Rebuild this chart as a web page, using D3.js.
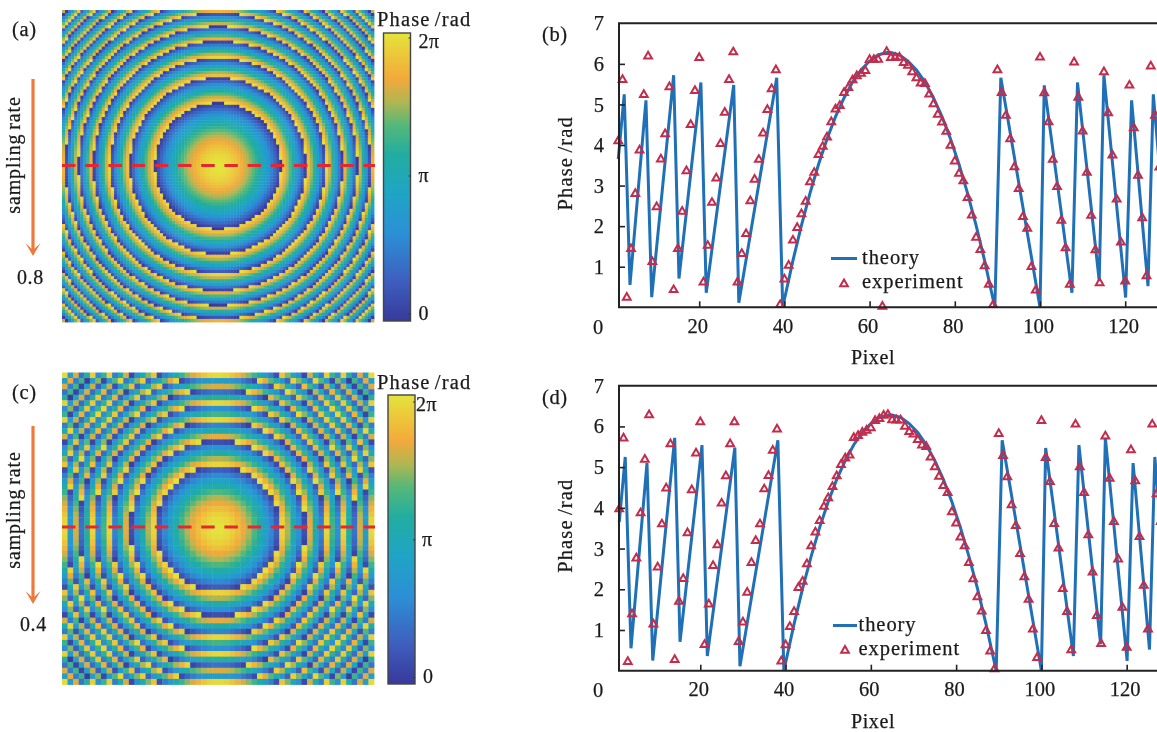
<!DOCTYPE html>
<html><head><meta charset="utf-8">
<script src="https://cdn.jsdelivr.net/npm/d3@7"></script>
<style>
html,body{margin:0;padding:0;background:#fff;overflow:hidden}
svg{display:block;filter:blur(0.45px)}
text{font-family:"Liberation Serif",serif;fill:#1a1a1a;stroke:#1a1a1a;stroke-width:.25px;word-spacing:-2px}
</style></head><body>
<svg id="fig" width="1157" height="732"></svg>
<script>
// --- values ---
const yTicks = [1,2,3,4,5,6,7];
const xTicks = [20,40,60,80,100,120];
const theoryPixel = [1,2.4,3.75,7.5,8.85,14,15.25,20.4,21.65,28.1,29.3,38.2,39.6,42,44,46,48,50,52,54,56,58,60,62,64,65,67,69,71,73,75,77,79,81,83,85,87,89.4,90.8,100,101,107.5,108.8,113.9,115,120.1,121.5,125.35,126.6,128];
const theoryPhase = [3.65,5.25,.55,5.1,.25,5.72,.71,5.54,.36,5.48,.11,5.66,0,1.15,2.02,2.81,3.52,4.15,4.7,5.16,5.55,5.85,6.07,6.22,6.28,6.28,6.22,6.07,5.85,5.55,5.16,4.7,4.15,3.52,2.81,2.02,1.15,0,5.66,0,5.47,.36,5.54,.65,5.72,.24,5.1,.52,5.25,3.5];
const expB = [4.10,5.61,.24,1.44,2.80,3.87,5.24,6.19,1.12,2.47,3.65,4.27,5.43,.43,1.44,2.36,3.36,4.5,5.34,6.15,.62,1.52,2.58,3.18,4.03,4.8,5.61,6.29,.62,1.32,1.81,2.62,3.15,3.64,4.29,4.87,5.38,5.85,.06,.69,1.03,1.65,1.96,2.30,2.61,3.09,3.32,3.76,3.96,4.19,4.57,4.88,4.97,5.29,5.41,5.6,5.70,5.76,5.83,6.10,6.10,6.11,.02,6.30,6.15,6.15,6.16,6.03,5.96,5.80,5.65,5.52,5.51,5.25,5.01,4.75,4.56,4.33,3.99,3.60,3.30,3.11,2.70,2.27,1.72,1.42,1.02,.56,.06,5.85,5.29,4.73,4.15,3.46,2.92,2.23,1.94,1.0,.42,6.16,5.28,4.57,3.64,2.97,2.14,1.46,.56,6.04,5.17,4.34,3.32,2.26,1.41,.60,5.80,4.79,3.75,2.66,1.60,.64,5.47,4.42,3.25,2.20,.77,5.94,4.73,3.45];
const expD = [3.97,5.71,.22,1.39,2.76,3.87,5.19,6.28,1.14,2.54,3.60,4.48,5.57,.27,1.70,2.26,3.38,4.44,5.34,6.11,.64,1.63,2.58,3.09,4.11,4.78,5.57,6.11,.71,1.19,1.92,2.65,3.19,3.60,4.46,4.79,5.41,5.93,.23,.63,1.08,1.45,2.04,2.19,2.62,3.06,3.40,3.68,4.03,4.24,4.52,4.78,5.06,5.22,5.29,5.72,5.77,5.85,5.90,5.96,6.14,6.19,6.27,6.29,6.16,6.15,6.15,6.0,5.87,5.81,5.67,5.54,5.50,5.24,5.0,4.77,4.54,4.37,3.90,3.62,3.28,3.06,2.65,2.25,1.81,1.46,.98,.48,.04,5.82,5.28,4.76,4.07,3.56,2.87,2.30,1.75,1.02,.32,6.14,5.23,4.64,3.61,3.01,2.01,1.45,.51,6.05,5.0,4.37,3.33,2.42,1.35,.66,5.76,4.72,3.66,2.74,1.55,.57,5.42,4.66,3.29,2.09,1.02,6.05,4.34,3.66];
// radius (in pixels of the 128-pixel row) of each wrap ring seen in the phase maps
const ringRadii = [0,25.8,36.2,44.3,51.2,57.2,62.7,67.7,72.4,76.8,81,85,88.8,92.4,96,99.4];
const colorStops = [0,.14,.3,.45,.58,.68,.76,.84,.92,1];
const colorValues = ["#38399b","#3e5fbf","#2c8fd6","#1fa5c4","#22ad9f","#55b87a","#b0b652","#f2a93b","#ecc63a","#e4e43c"];
const gridA = 102, gridC = 56;
const phaseLabels = ["2π","π","0"];

const TWO_PI = 2*Math.PI;
const svg = d3.select("#fig");
const color = d3.scaleLinear().domain(colorStops.map(s=>s*TWO_PI)).range(colorValues).interpolate(d3.interpolateRgb);
const rSq = ringRadii.map(r => r*r);

function cellPhase(r){
  const i = Math.min(d3.bisectRight(ringRadii, r), ringRadii.length-1);
  return d3.scaleLinear().domain([rSq[i-1], rSq[i]]).range([TWO_PI, 0])(r*r);
}

function heatmap(cfg){
  const g = svg.append("g");
  const n = cfg.grid;
  const band = d3.scaleBand().domain(d3.range(n)).range([cfg.left, cfg.left+cfg.size]);
  const toPx = d3.scaleLinear().domain([0,n-1]).range([-64+64/n,64-64/n]);
  const cells = [];
  for(let j=0;j<n;j++) for(let i=0;i<n;i++){
    cells.push({i,j,v:cellPhase(Math.hypot(toPx(i),toPx(j)))});
  }
  g.selectAll("rect").data(cells).join("rect")
    .attr("x",d=>band(d.i)).attr("y",d=>cfg.top+band(d.j)-cfg.left)
    .attr("width",band.bandwidth()+.4).attr("height",band.bandwidth()+.4)
    .attr("fill",d=>color(d.v));
  g.append("line").attr("x1",cfg.left).attr("x2",cfg.left+cfg.size+1)
    .attr("y1",cfg.dashY).attr("y2",cfg.dashY)
    .attr("stroke","#e8262f").attr("stroke-width",3).attr("stroke-dasharray","13.5 9.7");
}

function colorbar(cfg){
  const id = "grad"+cfg.id;
  const grad = svg.append("defs").append("linearGradient").attr("id",id)
    .attr("x1",0).attr("x2",0).attr("y1",1).attr("y2",0);
  grad.selectAll("stop").data(colorStops).join("stop")
    .attr("offset",d=>d).attr("stop-color",(d,i)=>colorValues[i]);
  svg.append("rect").attr("x",cfg.x).attr("y",cfg.top).attr("width",cfg.w).attr("height",cfg.bottom-cfg.top)
    .attr("fill",`url(#${id})`).attr("stroke","#444").attr("stroke-width",1.4);
  const y = d3.scaleLinear().domain([0,TWO_PI]).range([cfg.y0,cfg.y2pi]);
  const vals = [TWO_PI,Math.PI,0];
  svg.selectAll(null).data(vals).join("line")
    .attr("x1",cfg.x+cfg.w-2).attr("x2",cfg.x+cfg.w).attr("y1",d=>y(d)).attr("y2",d=>y(d))
    .attr("stroke","#333").attr("stroke-width",1);
  svg.selectAll(null).data(vals).join("text")
    .attr("x",(d,i)=>cfg.x+cfg.w+cfg.labelDx[i]).attr("y",(d,i)=>y(d)+cfg.labelDy[i])
    .attr("font-size",20).attr("letter-spacing",".4").text((d,i)=>phaseLabels[i]);
  svg.append("text").attr("x",cfg.titleX).attr("y",cfg.titleY).attr("font-size",20.5)
    .attr("letter-spacing","1.15").text("Phase /rad");
}

function sideNotes(cfg){
  svg.append("text").attr("x",12).attr("y",cfg.tagY).attr("font-size",20.5).attr("letter-spacing",".6").text(cfg.tag);
  svg.append("text").attr("transform",`translate(20,${cfg.rateY}) rotate(-90)`)
    .attr("text-anchor","middle").attr("font-size",20).attr("letter-spacing",".85").text("sampling rate");
  svg.append("line").attr("x1",33).attr("x2",33).attr("y1",cfg.arrowTop).attr("y2",cfg.arrowTip-6)
    .attr("stroke","#ec7a3c").attr("stroke-width",3.2);
  svg.append("path").attr("d",d3.line()([[25.5,cfg.arrowTip-13],[33,cfg.arrowTip-6],[40.5,cfg.arrowTip-13],[33,cfg.arrowTip]]))
    .attr("fill","#ec7a3c");
  svg.append("text").attr("x",cfg.rateLabelX).attr("y",cfg.rateLabelY).attr("font-size",20).attr("letter-spacing",".6").text(cfg.rate);
}

function profile(cfg){
  const x = d3.scaleLinear().domain([0,128]).range([cfg.x0,cfg.x0+128*cfg.k]);
  const y = d3.scaleLinear().domain([0,7]).range([cfg.bottom,cfg.top]);
  const g = svg.append("g");
  const frameRight = 1160;
  const line = d3.line().x(d=>x(d[0])).y(d=>y(d[1]));
  g.append("path").datum(d3.zip(theoryPixel,theoryPhase)).attr("d",line)
    .attr("fill","none").attr("stroke","#1f70b6").attr("stroke-width",3).attr("stroke-linejoin","miter");

  const tri = d3.symbol().type(d3.symbolTriangle).size(26);
  g.selectAll("path.pt").data(cfg.exp).join("path").attr("class","pt")
    .attr("d",tri)
    .attr("transform",(d,i)=>`translate(${x(i+1)},${y(d)})`)
    .attr("fill","none").attr("stroke","#c42c4c").attr("stroke-width",2);

  const axX = g.append("g").attr("transform",`translate(0,${cfg.bottom})`)
    .call(d3.axisBottom(x).tickValues(xTicks).tickSizeInner(-6).tickPadding(11).tickFormat(d3.format("d")));
  const axY = g.append("g").attr("transform",`translate(${cfg.left},0)`)
    .call(d3.axisLeft(y).tickValues(yTicks).tickSizeInner(-6).tickPadding(15).tickFormat(d3.format("d")));
  [axX,axY].forEach(a=>{
    a.select(".domain").remove();
    a.selectAll("line").attr("stroke","#222").attr("stroke-width",1.6);
    a.selectAll("text").attr("font-size",20.5).attr("font-family",'"Liberation Serif",serif').attr("fill","#1a1a1a");
  });
  axX.selectAll("text").attr("dx",-2);
  axY.selectAll(".tick").filter(d=>d===7).select("line").remove();
  g.append("path").attr("d",d3.line()([[frameRight,cfg.top],[cfg.left,cfg.top],[cfg.left,cfg.bottom],[frameRight,cfg.bottom]]))
    .attr("fill","none").attr("stroke","#222").attr("stroke-width",2);

  g.append("text").attr("x",598).attr("y",cfg.bottom+26.5).attr("text-anchor","middle").attr("font-size",20.5).text("0");
  g.append("text").attr("x",873).attr("y",cfg.bottom+57).attr("text-anchor","middle").attr("font-size",20).attr("letter-spacing",".6").text("Pixel");
  g.append("text").attr("transform",`translate(572,${cfg.top+140}) rotate(-90)`).attr("text-anchor","middle")
    .attr("font-size",20.5).attr("letter-spacing","1.15").text("Phase /rad");
  g.append("text").attr("x",542).attr("y",cfg.top+18).attr("font-size",20.5).attr("letter-spacing",".6").text(cfg.tag);

  // legend
  g.append("line").attr("x1",cfg.lgLine[0]).attr("x2",cfg.lgLine[1]).attr("y1",cfg.lgY1).attr("y2",cfg.lgY1)
    .attr("stroke","#1f70b6").attr("stroke-width",3);
  g.append("path").attr("d",tri).attr("transform",`translate(${(cfg.lgLine[0]+cfg.lgLine[1])/2},${cfg.lgY2})`)
    .attr("fill","none").attr("stroke","#c42c4c").attr("stroke-width",2);
  g.append("text").attr("x",cfg.lgText).attr("y",cfg.lgY1+5).attr("font-size",20.5).attr("letter-spacing",".95").text("theory");
  g.append("text").attr("x",cfg.lgText).attr("y",cfg.lgY2+4).attr("font-size",20.5).attr("letter-spacing",".95").text("experiment");
}

heatmap({grid:gridA,left:62,top:10,size:312,dashY:165.5});
heatmap({grid:gridC,left:62,top:372.5,size:312,dashY:527});
colorbar({id:"a",x:383.5,w:27,top:33,bottom:321,y0:314,y2pi:38,labelDx:[8,8,8],labelDy:[10,6,6],titleX:377,titleY:26});
colorbar({id:"c",x:388,w:27,top:395,bottom:684,y0:677.5,y2pi:402,labelDx:[1,7,8],labelDy:[9,6,5],titleX:377,titleY:389});
sideNotes({tag:"(a)",tagY:36,rateY:155,arrowTop:79,arrowTip:256,rate:"0.8",rateLabelX:17,rateLabelY:284});
sideNotes({tag:"(c)",tagY:399,rateY:510,arrowTop:426,arrowTip:604,rate:"0.4",rateLabelX:20,rateLabelY:631});
profile({tag:"(b)",exp:expB,x0:614,k:4.26,left:619,top:23.3,bottom:307.3,lgLine:[831,857],lgY1:258.5,lgY2:284,lgText:862});
profile({tag:"(d)",exp:expD,x0:615,k:4.264,left:619,top:385.7,bottom:670.7,lgLine:[833,857],lgY1:625.5,lgY2:650.5,lgText:858.5});
</script>
</body></html>
